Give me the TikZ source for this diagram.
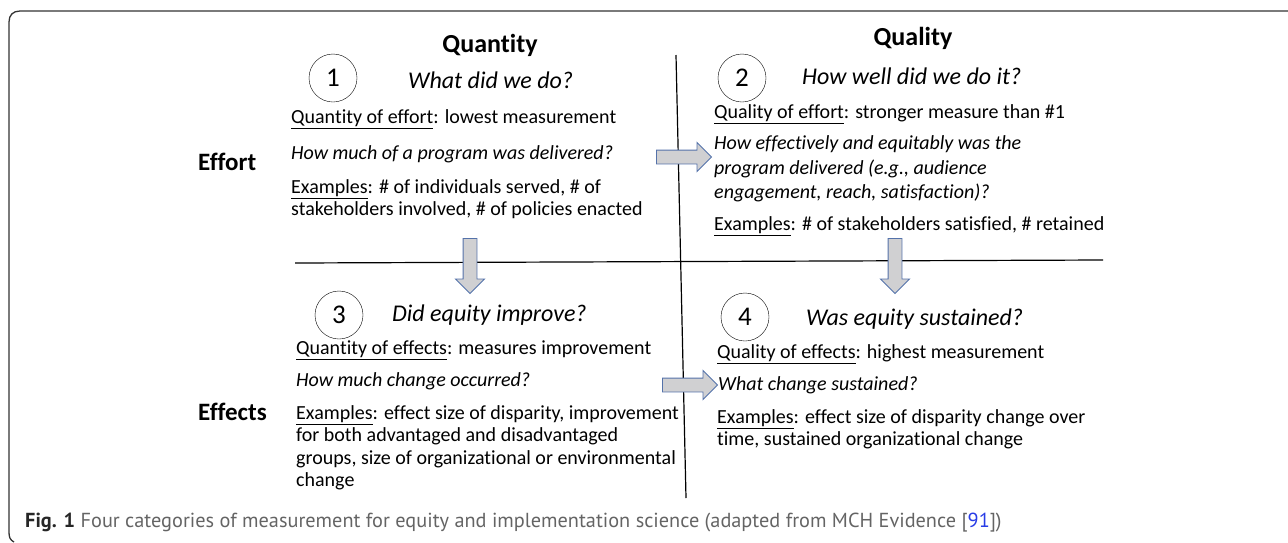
\documentclass[tikz,border=0pt]{standalone}
\usepackage{fontspec}
\setmainfont{Carlito}[Ligatures=NoCommon]
\newfontfamily\capfont{PT Sans}
\usetikzlibrary{shapes.arrows}
\definecolor{arrowedge}{RGB}{84,114,170}
\definecolor{arrowfill}{RGB}{208,208,210}
\definecolor{capgray}{RGB}{100,100,100}
\definecolor{refblue}{RGB}{40,60,230}
\tikzstyle{numcircle}=[circle,draw,minimum size=48pt,inner sep=0pt,font=\fontsize{27}{27}\selectfont]
\tikzstyle{heading}=[anchor=base,inner sep=0pt,font=\fontsize{26}{30}\selectfont\bfseries]
\tikzstyle{rowlabel}=[anchor=base west,inner sep=0pt,font=\fontsize{25}{30}\selectfont\bfseries]
\tikzstyle{question}=[anchor=base west,inner sep=0pt,font=\fontsize{24}{28}\selectfont\itshape]
\tikzstyle{body}=[anchor=base west,inner sep=0pt,align=left,font=\fontsize{20}{22.3}\selectfont]
\tikzstyle{bodyit}=[body,font=\fontsize{20}{24.5}\selectfont\itshape]
\tikzstyle{blockarrow}=[single arrow,draw=arrowedge,fill=arrowfill,line width=0.9pt,minimum height=55pt,inner sep=6.5pt,single arrow head extend=7.5pt]
\tikzstyle{divider}=[draw,line width=1.2pt]

\begin{document}
\begin{tikzpicture}[x=1pt,y=-1pt]
\useasboundingbox (0,0) rectangle (1288,542);

    % Frame, open on the right
    \draw[line width=1.3pt, black!80] (1288,11) -- (20,11) .. controls (13,11) and (9,15) .. (9,22) -- (9,532) .. controls (9,537) and (10,540) .. (14,542);

    % Quadrant dividers
    \draw[divider] (676,55) -- (686,498);
    \draw[divider] (295,263) -- (1103,260);

    % Column and row headings
    \node[heading] (quantity) at (490,52) {Quantity};
    \node[heading] (quality) at (913,45.5) {Quality};
    \node[rowlabel] (effort) at (198,170) {Effort};
    \node[rowlabel] (effects) at (198,420.5) {Effects};

    % Numbered circles
    \foreach \pos/\name/\label in {{(333,78)/one/1}, {(742,78)/two/2}, {(339,315)/three/3}, {(745,317)/four/4}}
        \node[numcircle] (\name) at \pos {\label};

    % Quantity of effort (multi-line nodes sit on their last line)
    \node[question] (q1) at (408,88) {What did we do?};
    \node[body] (q1kind) at (291,123.5) {\underline{Quantity of effort}: lowest measurement};
    \node[bodyit] (q1ask) at (291,159.5) {How much of a program was delivered?};
    \node[body] (q1ex) at (291,215.5) {\underline{Examples}: \# of individuals served, \# of\\stakeholders involved, \# of policies enacted};

    % Quality of effort
    \node[question] (q2) at (802,84) {How well did we do it?};
    \node[body] (q2kind) at (714,118.5) {\underline{Quality of effort}: stronger measure than \#1};
    \node[bodyit] (q2ask) at (714,198.5) {How effectively and equitably was the\\program delivered (e.g., audience\\engagement, reach, satisfaction)?};
    \node[body] (q2ex) at (714,230.5) {\underline{Examples}: \# of stakeholders satisfied, \# retained};

    % Quantity of effects
    \node[question] (q3) at (392,321) {Did equity improve?};
    \node[body] (q3kind) at (296,354.5) {\underline{Quantity of effects}: measures improvement};
    \node[bodyit] (q3ask) at (296,386.5) {How much change occurred?};
    \node[body] (q3ex) at (296,486.4) {\underline{Examples}: effect size of disparity, improvement\\for both advantaged and disadvantaged\\groups, size of organizational or environmental\\change};

    % Quality of effects
    \node[question] (q4) at (806,325) {Was equity sustained?};
    \node[body] (q4kind) at (717,358.5) {\underline{Quality of effects}: highest measurement};
    \node[bodyit] (q4ask) at (718,390.5) {What change sustained?};
    \node[body] (q4ex) at (717,445.8) {\underline{Examples}: effect size of disparity change over\\time, sustained organizational change};

    % Block arrows between the quadrants
    \foreach \pos/\name/\rot in {{(680.5,157)/across1/0}, {(686.5,385)/across2/0}, {(470,262.5)/down1/270}, {(895,262.5)/down2/270}}
        \node[blockarrow, shape border rotate=\rot] (\name) at \pos {};

    % Caption
    \node[anchor=base west, inner sep=0pt, font=\capfont\fontsize{20.3}{22}\selectfont, text=capgray] (caption) at (25,527) {{\bfseries\color{black!85}Fig. 1} Four categories of measurement for equity and implementation science (adapted from MCH Evidence [{\color{refblue}91}])};

\end{tikzpicture}
\end{document}
